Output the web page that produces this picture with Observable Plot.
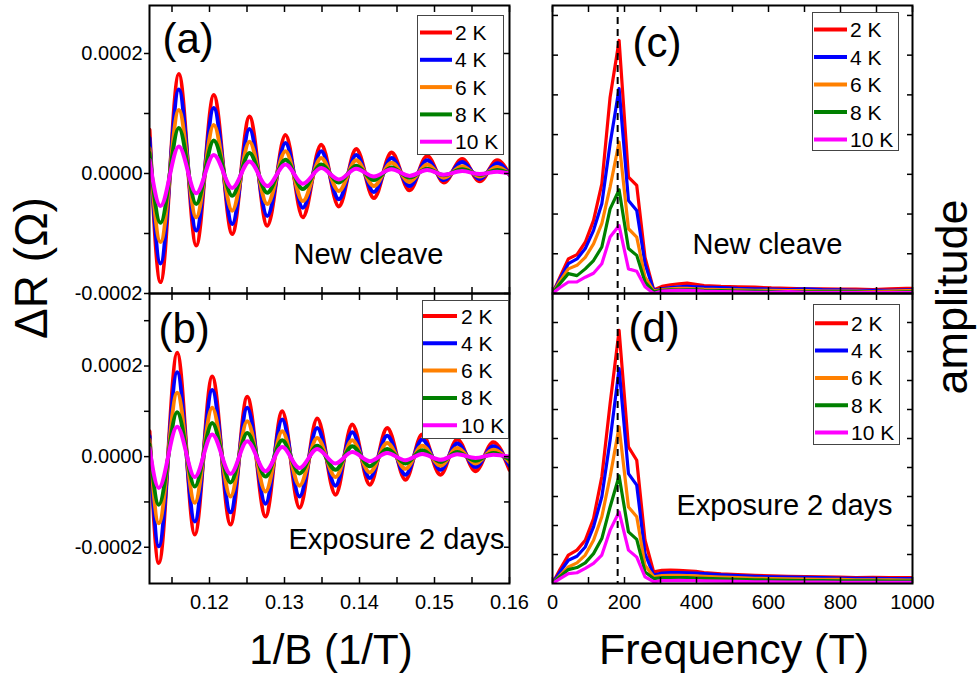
<!DOCTYPE html>
<html>
<head>
<meta charset="utf-8">
<script src="https://cdn.jsdelivr.net/npm/d3@7"></script>
<script src="https://cdn.jsdelivr.net/npm/@observablehq/plot@0.6"></script>
<style>
  body { margin: 0; background: #fff; font-family: "Liberation Sans", Arial, Helvetica, sans-serif; }
  #root { position: relative; width: 978px; height: 680px; overflow: hidden; background: #fff; }
  .panel { position: absolute; }
  .legend { position: absolute; background: #fff; border: 1.5px solid #444; box-sizing: border-box; }
  .overlay { position: absolute; left: 0; top: 0; pointer-events: none; }
</style>
</head>
<body>
<div id="root"></div>
<script>
// ---------------- DATA ----------------
const temps = ["2 K", "4 K", "6 K", "8 K", "10 K"];
const colors = ["#ff0000", "#0000ff", "#ff8000", "#008000", "#ff00ff"];

// (a) New cleave: 1/B positions of the oscillation extrema (1/T)
const invB_a = [0.1120, 0.11347, 0.11591, 0.11823, 0.12057, 0.12303, 0.12533, 0.12769, 0.13013, 0.13244, 0.13489,
                0.13724, 0.13956, 0.14191, 0.14427, 0.14667, 0.14903, 0.15124, 0.15369, 0.15604, 0.15836, 0.1600];
// ΔR in units of 1e-4 Ω
const dRa_2K  = [0.73, -1.81, 1.66, -1.20, 1.31, -1.01, 0.95, -0.87, 0.64, -0.73, 0.48, -0.55, 0.41, -0.41, 0.35, -0.28, 0.29, -0.15, 0.24, -0.13, 0.22, -0.02];
const dRa_4K  = [0.59, -1.50, 1.40, -0.95, 1.09, -0.84, 0.74, -0.71, 0.51, -0.57, 0.37, -0.43, 0.31, -0.31, 0.26, -0.21, 0.22, -0.11, 0.19, -0.09, 0.17, -0.02];
const dRa_6K  = [0.42, -1.14, 1.06, -0.73, 0.81, -0.62, 0.53, -0.51, 0.37, -0.46, 0.26, -0.29, 0.22, -0.21, 0.18, -0.14, 0.15, -0.07, 0.12, -0.05, 0.11, -0.01];
const dRa_8K  = [0.34, -0.82, 0.76, -0.51, 0.55, -0.37, 0.34, -0.32, 0.23, -0.26, 0.15, -0.15, 0.13, -0.11, 0.10, -0.07, 0.08, -0.03, 0.07, -0.02, 0.06, 0.00];
const dRa_10K = [0.23, -0.54, 0.45, -0.33, 0.31, -0.24, 0.20, -0.21, 0.15, -0.17, 0.09, -0.10, 0.08, -0.05, 0.07, -0.04, 0.06, -0.02, 0.04, -0.01, 0.03, 0.00];

// (b) Exposure 2 days
const invB_b = [0.1120, 0.11324, 0.11569, 0.11804, 0.12036, 0.12280, 0.12503, 0.12747, 0.12969, 0.13200, 0.13436,
                0.13680, 0.13903, 0.14137, 0.14369, 0.14613, 0.14836, 0.15080, 0.15303, 0.15547, 0.15783, 0.1600];
const dRb_2K  = [0.56, -2.35, 2.29, -1.72, 1.77, -1.50, 1.32, -1.32, 1.00, -1.13, 0.84, -0.84, 0.71, -0.62, 0.63, -0.51, 0.49, -0.40, 0.38, -0.32, 0.32, -0.29];
const dRb_4K  = [0.45, -1.98, 1.86, -1.43, 1.47, -1.23, 1.08, -1.04, 0.82, -0.88, 0.63, -0.64, 0.54, -0.47, 0.46, -0.40, 0.38, -0.29, 0.29, -0.23, 0.23, -0.20];
const dRb_6K  = [0.37, -1.47, 1.41, -1.02, 1.08, -0.88, 0.78, -0.77, 0.56, -0.64, 0.41, -0.45, 0.36, -0.35, 0.30, -0.27, 0.24, -0.20, 0.19, -0.15, 0.15, -0.12];
const dRb_8K  = [0.27, -1.06, 0.98, -0.66, 0.74, -0.57, 0.52, -0.44, 0.36, -0.37, 0.24, -0.29, 0.23, -0.21, 0.17, -0.15, 0.14, -0.12, 0.10, -0.09, 0.08, -0.06];
const dRb_10K = [0.19, -0.69, 0.66, -0.45, 0.49, -0.38, 0.34, -0.32, 0.21, -0.25, 0.17, -0.15, 0.10, -0.10, 0.08, -0.08, 0.06, -0.07, 0.05, -0.03, 0.04, 0.00];

// FFT frequencies (T)
const freq = [0, 21, 44, 68, 91, 114, 137, 160, 185, 211, 234, 257, 281, 304, 328, 351, 374, 398, 421,
              468, 515, 562, 608, 655, 702, 749, 796, 843, 890, 936, 983, 1000];
// (c) amplitude, arbitrary units
const ampC_2K  = [0, 0.42, 0.87, 0.98, 1.29, 1.84, 2.76, 4.94, 6.37, 2.93, 2.72, 0.91, 0.09, 0.18, 0.22, 0.24, 0.26, 0.23, 0.20, 0.18, 0.17, 0.16, 0.14, 0.13, 0.12, 0.12, 0.11, 0.11, 0.10, 0.12, 0.13, 0.13];
const ampC_4K  = [0, 0.37, 0.75, 0.87, 1.13, 1.59, 2.26, 3.77, 5.16, 2.34, 2.09, 0.75, 0.08, 0.12, 0.15, 0.17, 0.18, 0.17, 0.16, 0.15, 0.13, 0.12, 0.11, 0.10, 0.12, 0.10, 0.09, 0.08, 0.08, 0.08, 0.09, 0.09];
const ampC_6K  = [0, 0.31, 0.62, 0.71, 0.91, 1.25, 1.76, 2.68, 3.81, 1.63, 1.42, 0.41, 0.06, 0.10, 0.12, 0.13, 0.13, 0.12, 0.11, 0.10, 0.09, 0.08, 0.08, 0.07, 0.07, 0.06, 0.06, 0.06, 0.05, 0.06, 0.07, 0.07];
const ampC_8K  = [0, 0.25, 0.50, 0.45, 0.62, 0.83, 1.17, 2.13, 2.61, 1.13, 0.96, 0.29, 0.04, 0.08, 0.09, 0.09, 0.10, 0.09, 0.08, 0.07, 0.06, 0.06, 0.05, 0.05, 0.04, 0.04, 0.04, 0.04, 0.03, 0.03, 0.04, 0.04];
const ampC_10K = [0, 0.15, 0.29, 0.29, 0.41, 0.51, 0.75, 1.42, 1.71, 0.62, 0.56, 0.17, 0.00, 0.06, 0.07, 0.08, 0.08, 0.07, 0.06, 0.05, 0.04, 0.03, 0.03, 0.05, 0.03, 0.02, 0.02, 0.02, 0.02, 0.02, 0.02, 0.02];
// (d)
const ampD_2K  = [0, 0.49, 0.98, 1.15, 1.49, 2.24, 3.68, 6.20, 8.73, 4.71, 4.25, 1.49, 0.40, 0.45, 0.46, 0.45, 0.44, 0.42, 0.38, 0.33, 0.31, 0.28, 0.26, 0.25, 0.24, 0.23, 0.22, 0.20, 0.21, 0.20, 0.20, 0.20];
const ampD_4K  = [0, 0.40, 0.80, 0.94, 1.26, 1.95, 2.99, 4.94, 7.41, 3.79, 3.39, 1.03, 0.29, 0.36, 0.38, 0.38, 0.37, 0.36, 0.34, 0.30, 0.27, 0.25, 0.23, 0.22, 0.21, 0.20, 0.19, 0.18, 0.18, 0.17, 0.17, 0.17];
const ampD_6K  = [0, 0.28, 0.57, 0.71, 0.98, 1.49, 2.30, 3.68, 5.40, 2.64, 2.30, 0.63, 0.23, 0.27, 0.28, 0.28, 0.27, 0.26, 0.25, 0.22, 0.20, 0.18, 0.17, 0.16, 0.15, 0.14, 0.14, 0.13, 0.13, 0.13, 0.12, 0.12];
const ampD_8K  = [0, 0.24, 0.48, 0.55, 0.71, 1.03, 1.55, 2.64, 3.71, 1.78, 1.52, 0.40, 0.17, 0.20, 0.20, 0.20, 0.20, 0.19, 0.18, 0.16, 0.14, 0.13, 0.12, 0.11, 0.10, 0.10, 0.09, 0.09, 0.09, 0.08, 0.08, 0.08];
const ampD_10K = [0, 0.17, 0.34, 0.37, 0.52, 0.69, 0.98, 1.84, 2.47, 1.15, 0.91, 0.23, 0.06, 0.10, 0.10, 0.11, 0.10, 0.10, 0.09, 0.08, 0.07, 0.06, 0.06, 0.05, 0.05, 0.05, 0.04, 0.04, 0.04, 0.04, 0.04, 0.04];

const peakFreq = 181;

// tick values
const xTicksL = [0.115, 0.12, 0.125, 0.13, 0.135, 0.14, 0.145, 0.15, 0.155, 0.16];
const xLabelsL = [0.12, 0.13, 0.14, 0.15, 0.16];
const xTicksR = [0, 100, 200, 300, 400, 500, 600, 700, 800, 900, 1000];
const xLabelsR = [0, 200, 400, 600, 800, 1000];
const yMajorA = [-0.0002, 0, 0.0002];
const yMinorA = [-0.0001, 0.0001];
const yMajorB = [-0.0002, 0, 0.0002];
const yMinorB = [-0.0001, 0.0001, 0.0003];
const yTicksC = [1, 2, 3, 4, 5, 6, 7];
const yTicksD = [1, 2, 3, 4, 5, 6, 7, 8, 9];

const tags = ["(a)", "(b)", "(c)", "(d)"];
const notes = ["New cleave", "Exposure 2 days"];
const titles = { xLeft: "1/B (1/T)", xRight: "Frequency (T)", yLeft: "ΔR (Ω)", yRight: "amplitude" };

// ---------------- BUILD ----------------
const FONT = "'Liberation Sans', Arial, Helvetica, sans-serif";
const root = document.getElementById("root");

function longForm(xs, series, k = 1) {
  const rows = [];
  series.forEach((s, i) => s.forEach((v, j) => rows.push({ x: xs[j], y: v * k, T: temps[i] })));
  return rows;
}
const rowsA = longForm(invB_a, [dRa_2K, dRa_4K, dRa_6K, dRa_8K, dRa_10K], 1e-4);
const rowsB = longForm(invB_b, [dRb_2K, dRb_4K, dRb_6K, dRb_8K, dRb_10K], 1e-4);
const rowsC = longForm(freq, [ampC_2K, ampC_4K, ampC_6K, ampC_8K, ampC_10K]);
const rowsD = longForm(freq, [ampD_2K, ampD_4K, ampD_6K, ampD_8K, ampD_10K]);

function place(node, left, top) {
  const d = document.createElement("div");
  d.className = "panel";
  d.style.left = left + "px";
  d.style.top = top + "px";
  d.appendChild(node);
  root.appendChild(d);
}

const blank = () => "";
const baseStyle = { background: "transparent", overflow: "visible", fontFamily: FONT, fontSize: "20px", color: "#000" };

function leftPanel(o) {
  return Plot.plot({
    width: 520, height: o.height,
    marginLeft: 149, marginRight: 11, marginTop: o.mt, marginBottom: o.mb,
    style: baseStyle,
    x: { domain: [0.112, 0.16], label: null },
    y: { domain: o.yDomain, label: null },
    color: { domain: temps, range: colors },
    marks: [
      Plot.line(o.rows, { x: "x", y: "y", stroke: "T", strokeWidth: 4, curve: "monotone-x", clip: "frame" }),
      Plot.frame({ stroke: "#000", strokeWidth: 2 }),
      Plot.axisY({ anchor: "left", ticks: o.yMajor, tickSize: 5, tickPadding: 2, tickFormat: d => d.toFixed(4), fontSize: 20, strokeWidth: 1.5 }),
      Plot.axisY({ anchor: "left", ticks: o.yMinor, tickSize: 5, tickFormat: blank, strokeWidth: 1.5 }),
      Plot.axisY({ anchor: "right", ticks: [...o.yMajor, ...o.yMinor], tickSize: -6, tickFormat: blank, strokeWidth: 1.5 }),
      Plot.axisX({ anchor: "top", ticks: xTicksL, tickSize: -6, tickFormat: blank, strokeWidth: 1.5 }),
      Plot.axisX({ anchor: "bottom", ticks: xTicksL, tickSize: -6, tickFormat: blank, strokeWidth: 1.5 }),
      o.labels ? Plot.axisX({ anchor: "bottom", ticks: xLabelsL, tickSize: 0, tickPadding: 11, tickFormat: d => d.toFixed(2), fontSize: 20 }) : null,
      Plot.text([o.tag], { text: d => d, frameAnchor: "top-left", dx: o.tagDx, dy: o.tagDy, fontSize: 42, lineAnchor: "top", textAnchor: "start", fill: "#000" }),
      Plot.text([o.note], { text: d => d, frameAnchor: "top-left", dx: o.noteDx, dy: o.noteDy, fontSize: 29, lineAnchor: "top", textAnchor: "start", fill: "#000" })
    ]
  });
}

function rightPanel(o) {
  return Plot.plot({
    width: 458, height: o.height,
    marginLeft: 32, marginRight: 66, marginTop: o.mt, marginBottom: o.mb,
    style: baseStyle,
    x: { domain: [0, 1000], label: null },
    y: { domain: o.yDomain, label: null },
    color: { domain: temps, range: colors },
    marks: [
      Plot.line(o.rows, { x: "x", y: "y", stroke: "T", strokeWidth: 3.2, clip: "frame", strokeLinejoin: "round" }),
      Plot.ruleX([peakFreq], { x: d => d, stroke: "#000", strokeWidth: 2, strokeDasharray: "7,5" }),
      Plot.frame({ stroke: "#000", strokeWidth: 2 }),
      Plot.axisY({ anchor: "left", ticks: o.yTicks, tickSize: -6, tickFormat: blank, strokeWidth: 1.5 }),
      Plot.axisY({ anchor: "right", ticks: o.yTicks, tickSize: -6, tickFormat: blank, strokeWidth: 1.5 }),
      Plot.axisX({ anchor: "top", ticks: xTicksR, tickSize: -6, tickFormat: blank, strokeWidth: 1.5 }),
      Plot.axisX({ anchor: "bottom", ticks: xTicksR, tickSize: -6, tickFormat: blank, strokeWidth: 1.5 }),
      o.labels ? Plot.axisX({ anchor: "bottom", ticks: xLabelsR, tickSize: 0, tickPadding: 11, tickFormat: d => String(d), fontSize: 20 }) : null,
      Plot.text([o.tag], { text: d => d, frameAnchor: "top-left", dx: o.tagDx, dy: o.tagDy, fontSize: 42, lineAnchor: "top", textAnchor: "start", fill: "#000" }),
      Plot.text([o.note], { text: d => d, frameAnchor: "top-left", dx: o.noteDx, dy: o.noteDy, fontSize: 29, lineAnchor: "top", textAnchor: "start", fill: "#000" })
    ]
  });
}

place(leftPanel({ rows: rowsA, height: 300, mt: 5, mb: 7, yDomain: [-0.0002, 0.00028], yMajor: yMajorA, yMinor: yMinorA,
  labels: false, tag: tags[0], tagDx: 13, tagDy: 18, note: notes[0], noteDx: 144, noteDy: 238 }), 0, 0);
place(leftPanel({ rows: rowsB, height: 387, mt: 0, mb: 97, yDomain: [-0.00028, 0.00036], yMajor: yMajorB, yMinor: yMinorB,
  labels: true, tag: tags[1], tagDx: 9, tagDy: 20, note: notes[1], noteDx: 139, noteDy: 235 }), 0, 293);
place(rightPanel({ rows: rowsC, height: 300, mt: 5, mb: 7, yDomain: [0, 7.25], yTicks: yTicksC,
  labels: false, tag: tags[2], tagDx: 80, tagDy: 22, note: notes[0], noteDx: 140, noteDy: 228 }), 520, 0);
place(rightPanel({ rows: rowsD, height: 387, mt: 0, mb: 97, yDomain: [0, 10], yTicks: yTicksD,
  labels: true, tag: tags[3], tagDx: 76, tagDy: 19, note: notes[1], noteDx: 124, noteDy: 201 }), 520, 293);

// legends
function legend(left, top, width, height, rowTop, rowStep, swX, swW, txX) {
  const div = document.createElement("div");
  div.className = "legend";
  Object.assign(div.style, { left: left + "px", top: top + "px", width: width + "px", height: height + "px" });
  const svg = d3.create("svg").attr("width", width).attr("height", height).style("position", "absolute").style("left", "-1.5px").style("top", "-1.5px");
  temps.forEach((t, i) => {
    const cy = rowTop + i * rowStep;
    svg.append("line").attr("x1", swX).attr("x2", swX + swW).attr("y1", cy).attr("y2", cy)
      .attr("stroke", colors[i]).attr("stroke-width", 4);
    svg.append("text").attr("x", txX).attr("y", cy + 7.5).text(t)
      .attr("font-family", FONT).attr("font-size", 21).attr("fill", "#000");
  });
  div.appendChild(svg.node());
  root.appendChild(div);
}
legend(417, 15, 87, 140, 17.5, 27.3, 3, 32, 38);
legend(422, 300, 87, 139, 16, 27.3, 1, 34, 39);
legend(812, 12, 87, 139, 17.5, 27.5, 2, 33, 38);
legend(813, 304, 87, 141, 19.3, 27.3, 2, 33, 38);

// axis titles
const ov = d3.create("svg").attr("class", "overlay").attr("width", 978).attr("height", 680)
  .attr("font-family", FONT).attr("fill", "#000");
ov.append("text").attr("x", 331).attr("y", 664).attr("text-anchor", "middle").attr("font-size", 42).text(titles.xLeft);
ov.append("text").attr("x", 734).attr("y", 664).attr("text-anchor", "middle").attr("font-size", 43).text(titles.xRight);
ov.append("text").attr("transform", "translate(47,268) rotate(-90)").attr("text-anchor", "middle").attr("font-size", 46).text(titles.yLeft);
ov.append("text").attr("transform", "translate(967,297) rotate(-90)").attr("text-anchor", "middle").attr("font-size", 45).text(titles.yRight);
root.appendChild(ov.node());
</script>
</body>
</html>
